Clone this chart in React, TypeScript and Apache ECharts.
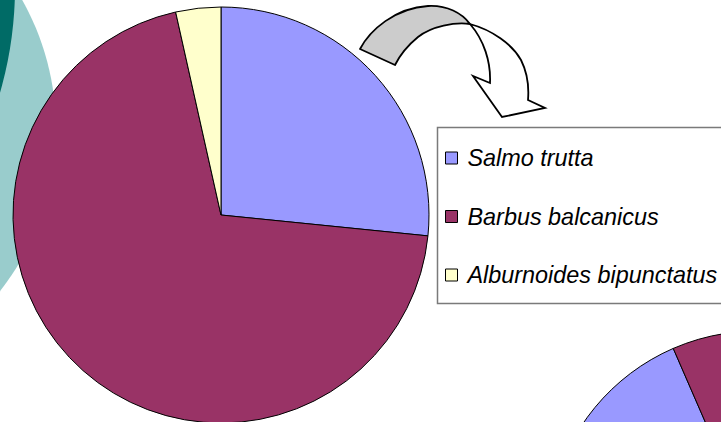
import React, { useEffect, useRef } from "react";
import * as echarts from "echarts";

const species = ["Salmo trutta", "Barbus balcanicus", "Alburnoides bipunctatus"];
const shares = [26.6, 69.9, 3.5];
const secondShares = [30, 65, 5];
const colors = ["#9999FF", "#993366", "#FFFFCC"];

const ribbonPath =
  "M360,49 C370,30 395,8 428,6 C447,5 462,13 470,24 C455,22 432,26 418,37 C407,46 399,57 395,65 Z";
const arrowPath =
  "M470,24 C492,30 512,44 521,60 C528,74 529,88 528,100 L545,108 L502,117 L473,76 L490,83 C491,62 484,40 470,24 Z";

echarts.graphic.registerShape("ribbon", echarts.graphic.extendPath(ribbonPath, {}));
echarts.graphic.registerShape("arrowHead", echarts.graphic.extendPath(arrowPath, {}));

export default function App() {
  const ref = useRef<HTMLDivElement>(null);
  useEffect(() => {
    if (!ref.current) return;
    const chart = echarts.init(ref.current, null, { renderer: "svg" });
    const mk = (vals: number[]) =>
      species.map((n, i) => ({ name: n, value: vals[i], itemStyle: { color: colors[i] } }));
    chart.setOption({
      animation: false,
      backgroundColor: "#ffffff",
      graphic: [
        { type: "circle", z: -10, shape: { cx: -207, cy: 129, r: 263 }, style: { fill: "#99CCCC" } },
        { type: "circle", z: -9, shape: { cx: -366, cy: -13, r: 381 }, style: { fill: "#006B66" } },
        { type: "ribbon", z: 1, x: 0, y: 0, style: { fill: "#CCCCCC", stroke: "#000", lineWidth: 1.8, lineJoin: "round" } },
        { type: "arrowHead", z: 1, x: 0, y: 0, style: { fill: "#ffffff", stroke: "#000", lineWidth: 1.8, lineJoin: "miter" } },
        { type: "rect", z: 1, shape: { x: 437.5, y: 127.5, width: 300, height: 176 }, style: { fill: "#ffffff", stroke: "#7a7a7a", lineWidth: 1.5 } },
      ],
      legend: {
        data: species,
        orient: "vertical",
        left: 445,
        top: 145,
        padding: 0,
        itemWidth: 12,
        itemHeight: 12,
        itemGap: 32.5,
        icon: "rect",
        itemStyle: { borderColor: "#000", borderWidth: 1 },
        textStyle: {
          fontFamily: "Liberation Sans, Arial, sans-serif",
          fontStyle: "italic",
          fontSize: 23.4,
          lineHeight: 26,
          color: "#000",
          padding: [0, 0, 0, 5],
        },
      },
      series: [
        {
          type: "pie",
          center: [221, 215],
          radius: 208,
          startAngle: 90,
          clockwise: true,
          label: { show: false },
          labelLine: { show: false },
          emphasis: { disabled: true },
          itemStyle: { borderColor: "#000", borderWidth: 1 },
          data: mk(shares),
        },
        {
          type: "pie",
          center: [757, 541],
          radius: 210,
          startAngle: 113.5 + 3.6 * secondShares[0],
          clockwise: true,
          label: { show: false },
          labelLine: { show: false },
          emphasis: { disabled: true },
          itemStyle: { borderColor: "#000", borderWidth: 1 },
          data: mk(secondShares),
        },
      ],
    });
    return () => chart.dispose();
  }, []);
  return <div ref={ref} style={{ position: "absolute", left: 0, top: 0, width: 721, height: 422 }} />;
}
